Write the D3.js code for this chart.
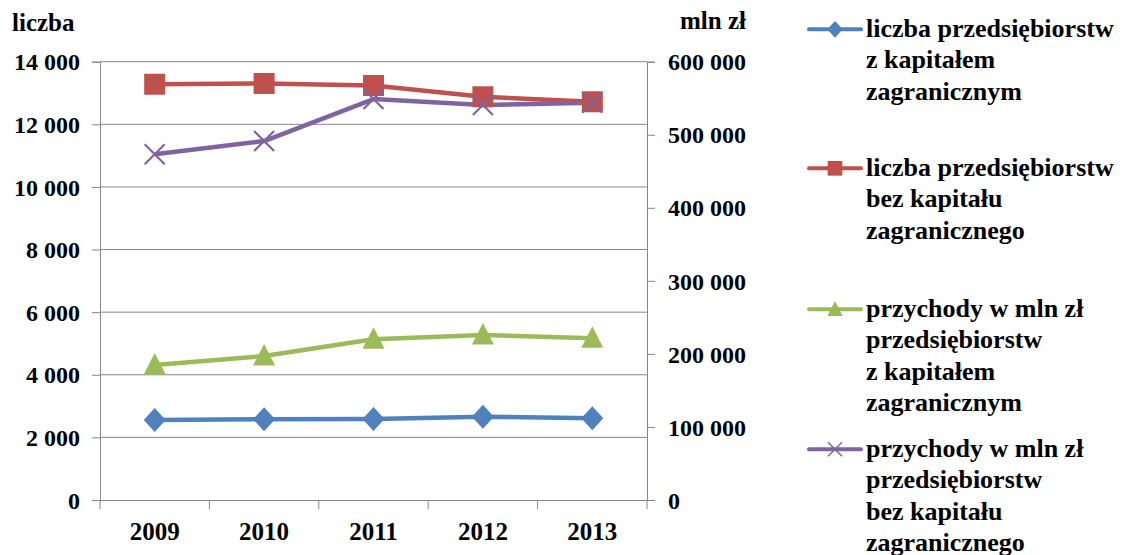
<!DOCTYPE html>
<html><head><meta charset="utf-8">
<script src="https://cdn.jsdelivr.net/npm/d3@7/dist/d3.min.js"></script>
</head><body style="margin:0">
<svg id="c" width="1123" height="555" font-family="Liberation Serif"></svg>
<script>
const years = ["2009","2010","2011","2012","2013"];
const firmsForeign = [2555, 2577, 2585, 2660, 2610];
const firmsDomestic = [13280, 13305, 13240, 12880, 12720];
const revenueForeign = [184800, 197100, 220000, 225900, 221300];
const revenueDomestic = [473200, 491400, 548900, 540700, 543900];
const leftTicks = [0,2000,4000,6000,8000,10000,12000,14000];
const rightTicks = [0,100000,200000,300000,400000,500000,600000];
const legendLabels = [
  ["liczba przedsiębiorstw","z kapitałem","zagranicznym"],
  ["liczba przedsiębiorstw","bez kapitału","zagranicznego"],
  ["przychody w mln zł","przedsiębiorstw","z kapitałem","zagranicznym"],
  ["przychody w mln zł","przedsiębiorstw","bez kapitału","zagranicznego"]
];

const svg = d3.select("#c");
const L = 100, R = 647, T = 61.7, B = 500;
const x = d3.scaleBand().domain(years).range([L, R]);
const yL = d3.scaleLinear().domain([0,14000]).range([B, T]);
const yR = d3.scaleLinear().domain([0,600000]).range([B, T]);
const fmt = v => d3.format(",")(v).replace(/,/g, "\u00a0");
const grid = "#868686";
const FONT = `"Times New Roman", "Liberation Serif", "Nimbus Roman", FreeSerif, serif`;
function styleText(sel, size) {
  sel.attr("font-family", FONT)
     .style("font-family", FONT, "important")
     .style("font-weight","bold", "important")
     .style("font-size", size+"px", "important");
}

svg.append("g").selectAll("line").data(leftTicks.filter(d=>d>0)).join("line")
  .attr("x1", L).attr("x2", R).attr("y1", d=>yL(d)).attr("y2", d=>yL(d))
  .attr("stroke", grid).attr("stroke-width", 1);

const gl = svg.append("g").attr("transform", `translate(${L},0)`)
  .call(d3.axisLeft(yL).tickValues(leftTicks).tickFormat(fmt).tickSize(8).tickPadding(12));
const gr = svg.append("g").attr("transform", `translate(${R},0)`)
  .call(d3.axisRight(yR).tickValues(rightTicks).tickFormat(fmt).tickSize(8).tickPadding(13));
const gb = svg.append("g").attr("transform", `translate(0,${B})`)
  .call(d3.axisBottom(x).tickSize(0).tickPadding(30));
svg.append("g").selectAll("line").data(d3.range(years.length+1)).join("line")
  .attr("x1", i=>L + i*x.step()).attr("x2", i=>L + i*x.step())
  .attr("y1", B).attr("y2", B+9).attr("stroke", grid);

[gl,gr,gb].forEach(g=>{
  g.attr("font-family", FONT);
  g.select(".domain").attr("stroke", grid);
  g.selectAll(".tick line").attr("stroke", grid);
  g.selectAll("text").attr("fill", "#000");
});
styleText(gl.selectAll("text"), 24);
styleText(gr.selectAll("text"), 24);
styleText(gb.selectAll("text"), 25);
gb.selectAll("text").attr("dy", null).attr("y", 40);
gl.selectAll("text").attr("dy","0.34em");
gr.selectAll("text").attr("dy","0.34em");

styleText(svg.append("text").attr("x", 12).attr("y", 31).text("liczba"), 25);
styleText(svg.append("text").attr("x", 746).attr("y", 29).attr("text-anchor","end").text("mln zł"), 25);

const series = [
  {vals: firmsForeign, scale: yL, color: "#4F81BD", marker: "diamond"},
  {vals: firmsDomestic, scale: yL, color: "#C0504D", marker: "square"},
  {vals: revenueForeign, scale: yR, color: "#9BBB59", marker: "triangle"},
  {vals: revenueDomestic, scale: yR, color: "#8064A2", marker: "x"}
];

function drawMarker(g, type, color, s) {
  if (type === "diamond") {
    g.append("path").attr("d", `M0,${-12*s}L${11*s},0L0,${12*s}L${-11*s},0Z`).attr("fill", color);
  } else if (type === "square") {
    g.append("rect").attr("x",-10.5*s).attr("y",-10.5*s).attr("width",21*s).attr("height",21*s).attr("fill", color);
  } else if (type === "triangle") {
    g.append("path").attr("d", `M0,${-12*s}L${11*s},${9.5*s}L${-11*s},${9.5*s}Z`).attr("fill", color);
  } else {
    g.append("path").attr("d", `M${-10*s},${-10*s}L${10*s},${10*s}M${10*s},${-10*s}L${-10*s},${10*s}`)
      .attr("stroke", color).attr("stroke-width", s<1?1.5:2.2).attr("fill","none");
  }
}

const line = (sc) => d3.line().x((d,i)=>x(years[i]) + x.bandwidth()/2).y(d=>sc(d));
series.forEach(s => {
  svg.append("path").datum(s.vals).attr("d", line(s.scale))
    .attr("fill","none").attr("stroke", s.color).attr("stroke-width", 4.5).attr("stroke-linejoin","round");
});
series.forEach(s => {
  s.vals.forEach((v,i) => {
    const g = svg.append("g").attr("transform", `translate(${x(years[i]) + x.bandwidth()/2},${s.scale(v)})`);
    drawMarker(g, s.marker, s.color, 1);
  });
});

const legY = [29.3, 168.3, 309.3, 449.3];
series.forEach((s, k) => {
  const g = svg.append("g").attr("transform", `translate(0,${legY[k]})`);
  g.append("line").attr("x1", 809).attr("x2", 861).attr("y1",0).attr("y2",0)
    .attr("stroke", s.color).attr("stroke-width", 4).attr("stroke-linecap","round");
  const mg = g.append("g").attr("transform","translate(835,0)");
  drawMarker(mg, s.marker, s.color, 0.7);
  legendLabels[k].forEach((t, j) => {
    styleText(g.append("text").attr("x", 866).attr("y", 8 + j*31.2).text(t), 26);
  });
});
</script></body></html>
